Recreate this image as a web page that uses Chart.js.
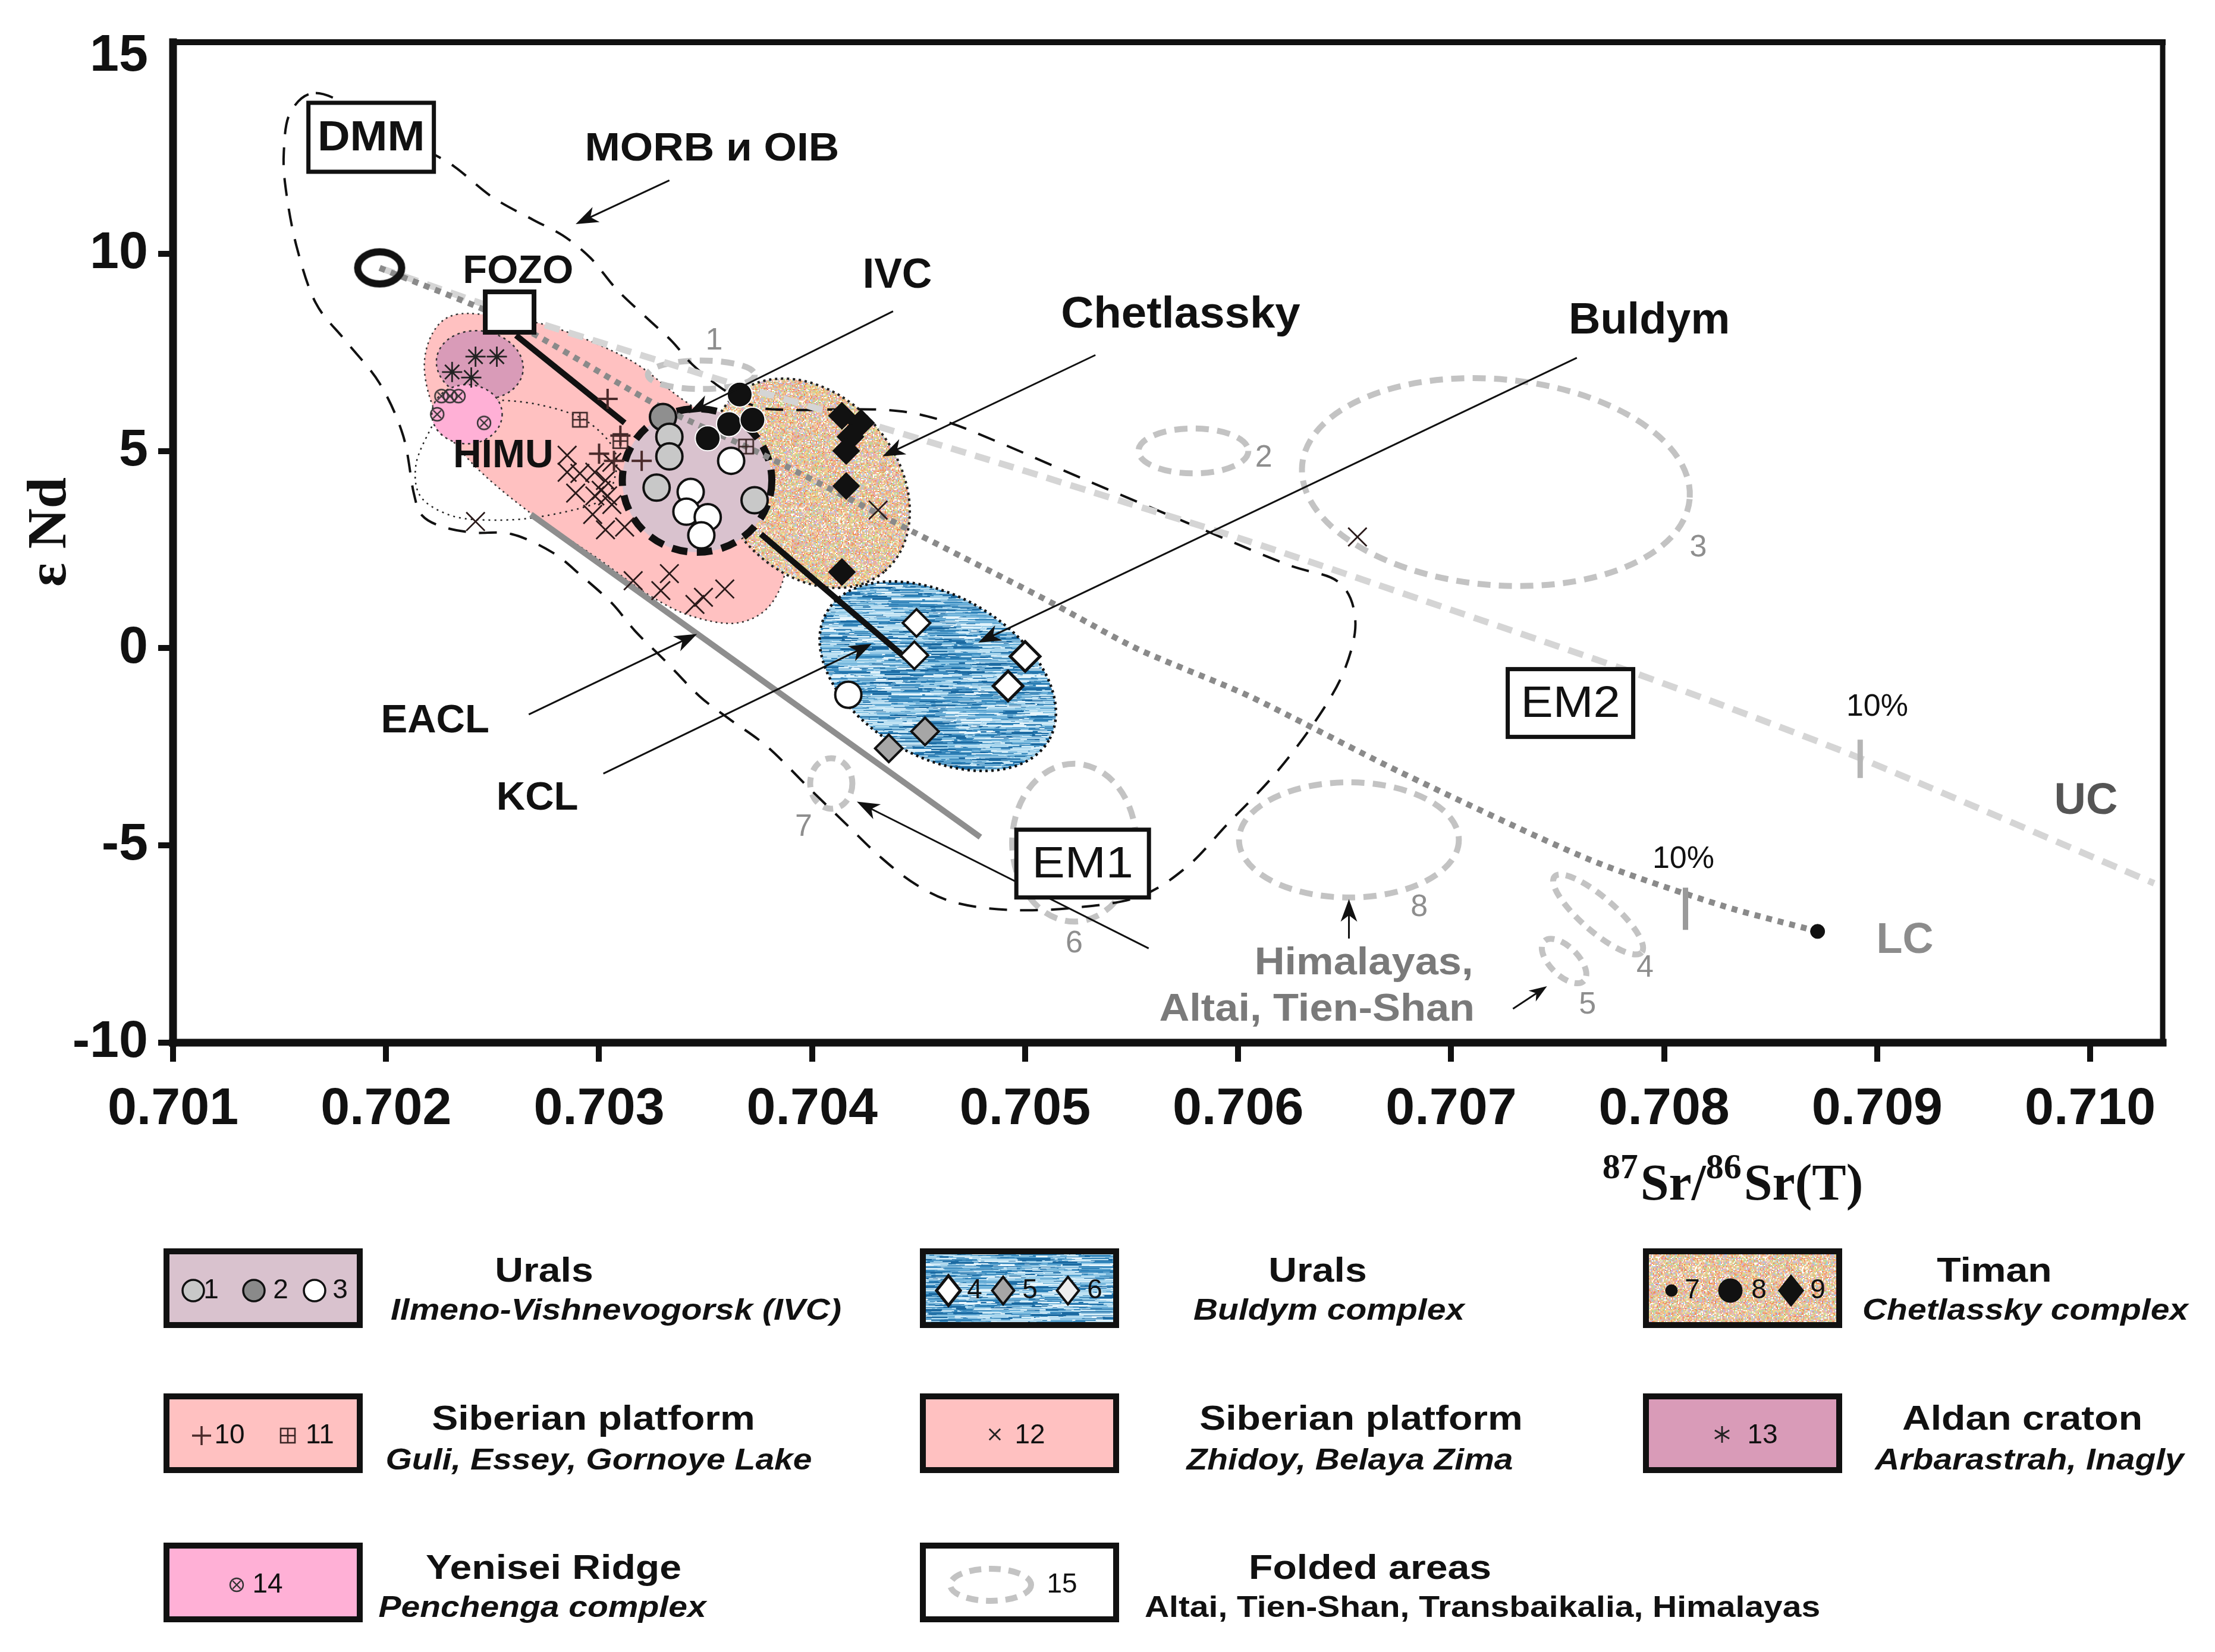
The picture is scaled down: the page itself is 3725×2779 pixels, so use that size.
<!DOCTYPE html>
<html lang="en">
<head>
<meta charset="utf-8">
<title>εNd vs 87Sr/86Sr(T)</title>
<script src="https://cdn.jsdelivr.net/npm/chart.js@4.4.1/dist/chart.umd.min.js"></script>
<style>
html,body{margin:0;padding:0;background:#ffffff;}
#wrap{position:relative;width:3725px;height:2779px;}
canvas{display:block;}
</style>
</head>
<body>
<div id="wrap"><canvas id="chart" width="3725" height="2779" style="width:3725px;height:2779px"></canvas></div>
<script>
// ======================= DATA =======================
const xTickLabels = ['0.701','0.702','0.703','0.704','0.705','0.706','0.707','0.708','0.709','0.710'];
const yTickLabels = ['-10','-5','0','5','10','15'];

// IVC (Urals, Ilmeno-Vishnevogorsk)
const ivc1 = [[0.70333,5.36],[0.70333,4.86],[0.70327,4.07],[0.70373,3.75]];
const ivc2 = [[0.70330,5.86]];
const ivc3 = [[0.70362,4.75],[0.70343,3.96],[0.70341,3.46],[0.70351,3.32],[0.70348,2.86],[0.70417,-1.18]];
// Timan, Chetlassky complex
const timan8 = [[0.70366,6.43],[0.70361,5.68],[0.70351,5.32],[0.70372,5.79]];
const timan9 = [[0.70414,5.89],[0.70423,5.71],[0.70418,5.36],[0.70416,5.00],[0.70416,4.11],[0.70414,1.93]];
// Urals, Buldym complex
const buldym4 = [[0.70500,-0.21],[0.70492,-0.96]];
const buldym5 = [[0.70453,-2.11],[0.70436,-2.54]];
const buldym6 = [[0.70449,0.64],[0.70448,-0.18]];
// Siberian platform: Guli, Essey, Gornoye Lake
const guli10 = [[0.70304,6.32],[0.70310,5.39],[0.70300,4.93],[0.70307,4.75],[0.70320,4.75]];
const guli11 = [[0.70291,5.79],[0.70310,5.25],[0.70369,5.11]];
// Siberian platform: Zhidoy, Belaya Zima
const zhidoy12 = [[0.70285,4.89],[0.70285,4.46],[0.70291,4.43],[0.70298,4.46],[0.70289,3.93],[0.70298,3.86],
  [0.70303,4.25],[0.70304,3.86],[0.70306,4.71],[0.70301,4.00],[0.70306,3.64],[0.70297,3.39],[0.70303,3.00],
  [0.70312,3.07],[0.70316,1.71],[0.70333,1.89],[0.70329,1.46],[0.70345,1.11],[0.70349,1.29],[0.70359,1.50],
  [0.70242,3.21],[0.70431,3.50],[0.70656,2.82]];
// Aldan craton
const aldan13 = [[0.70242,7.39],[0.70252,7.39],[0.70231,7.00],[0.70240,6.86]];
// Yenisei Ridge
const yenisei14 = [[0.70226,6.39],[0.70230,6.39],[0.70234,6.39],[0.70224,5.93],[0.70246,5.71]];

// reservoirs
const dmmRing = [[0.70197,9.64]];
const fozoPoint = [[0.70258,8.52]];
const lcPoint = [[0.70872,-7.18]];

// mixing / trend lines
const ucLine = [[0.70197,9.64],[0.70269,8.29],[0.70328,7.29],[0.70371,6.57],[0.70416,5.86],[0.70482,4.79],
  [0.70548,3.68],[0.70605,2.71],[0.70712,0.75],[0.70783,-0.57],[0.70830,-1.50],[0.70892,-2.79],[0.71030,-5.96]];
const lcLine = [[0.70197,9.64],[0.70258,8.29],[0.70329,6.11],[0.70376,4.93],[0.70447,2.96],[0.70509,1.25],
  [0.70552,0.00],[0.70605,-1.21],[0.70676,-3.14],[0.70765,-5.36],[0.70828,-6.54],[0.70872,-7.18]];
const ucTick = [[0.70892,-2.32],[0.70892,-3.29]];
const lcTick = [[0.70810,-6.07],[0.70810,-7.14]];
const trendBlack1 = [[0.70261,7.93],[0.70312,5.71]];
const trendBlack2 = [[0.70376,2.89],[0.70444,-0.25]];
const trendGray = [[0.70268,3.39],[0.70479,-4.79]];

// outlined / filled fields (data units)
const morbEnvelope = [[0.70167,14.07],[0.70189,13.57],[0.70217,12.68],[0.70232,12.21],[0.70250,11.43],[0.70269,10.86],
  [0.70283,10.46],[0.70296,9.89],[0.70308,9.11],[0.70322,8.39],[0.70334,7.79],[0.70344,7.18],[0.70358,6.57],
  [0.70373,6.14],[0.70389,6.04],[0.70434,6.04],[0.70460,5.79],[0.70488,5.21],[0.70529,4.25],[0.70576,3.18],
  [0.70622,2.14],[0.70647,1.68],[0.70655,0.71],[0.70650,-0.54],[0.70637,-1.79],[0.70617,-3.21],[0.70595,-4.46],
  [0.70576,-5.54],[0.70554,-6.29],[0.70525,-6.57],[0.70495,-6.64],[0.70468,-6.46],[0.70449,-6.00],[0.70432,-5.29],
  [0.70416,-4.46],[0.70399,-3.57],[0.70379,-2.50],[0.70361,-1.79],[0.70347,-1.21],[0.70331,-0.32],[0.70317,0.43],
  [0.70306,1.14],[0.70292,1.82],[0.70278,2.43],[0.70259,2.89],[0.70241,2.93],[0.70227,3.07],[0.70217,3.36],
  [0.70213,3.93],[0.70208,5.39],[0.70197,6.71],[0.70181,7.79],[0.70167,8.75],[0.70158,10.18],[0.70153,11.61],
  [0.70152,12.57],[0.70155,13.57]];
const zhidoyField = [[0.70233,8.46],[0.70255,8.39],[0.70280,8.11],[0.70314,7.32],[0.70337,6.39],[0.70363,5.36],
  [0.70381,4.11],[0.70388,2.32],[0.70381,1.14],[0.70365,0.64],[0.70343,0.82],[0.70323,1.36],[0.70300,2.25],
  [0.70266,3.50],[0.70240,4.71],[0.70224,5.89],[0.70218,7.07],[0.70222,8.00]];
const himuOutline = [[0.70249,6.29],[0.70271,6.18],[0.70293,5.79],[0.70307,5.04],[0.70307,4.25],[0.70300,3.71],
  [0.70271,3.32],[0.70246,3.25],[0.70229,3.39],[0.70216,3.86],[0.70214,4.64],[0.70220,5.46],[0.70226,5.93],[0.70237,6.18]];
// ellipses: [centre Sr, centre Nd, half-axis in Sr units, half-axis in Nd units, tilt in degrees]
const aldanField = [0.70244,7.18,0.000205,0.86,10];
const yeniseiField = [0.70238,5.93,0.000165,0.75,0];
const chetlasskyField = [0.70399,4.18,0.000542,2.21,50];
const ivcField = [0.70346,4.25,0.000351,1.82,0];
const buldymField = [0.70459,-0.71,0.000602,2.04,30];
const foldedAreas = [
  [0.70348,6.93,0.000251,0.36,0],
  [0.70579,5.00,0.000258,0.57,0],
  [0.70721,4.21,0.000913,2.61,5],
  [0.70769,-6.75,0.000271,0.43,41],
  [0.70753,-7.93,0.000132,0.36,45],
  [0.70523,-4.93,0.000291,2.00,0],
  [0.70409,-3.43,0.000099,0.64,0],
  [0.70652,-4.86,0.000516,1.46,0]];
const foldedLabels = [['1',0.70354,7.79],['2',0.70612,4.82],['3',0.70816,2.54],['4',0.70791,-8.11],
  ['5',0.70764,-9.04],['6',0.70523,-7.50],['7',0.70396,-4.54],['8',0.70685,-6.57]];

// annotations (text, Sr, Nd)
const plotLabels = [['MORB и OIB',0.70353,12.64],['FOZO',0.70262,9.54],['HIMU',0.70255,4.86],['IVC',0.70440,9.43],
  ['Chetlassky',0.70573,8.43],['Buldym',0.70793,8.29],['EACL',0.70223,-1.86],['KCL',0.70271,-3.82],
  ['Himalayas,',0.70659,-8.00],['Altai, Tien-Shan',0.70637,-9.18],['10%',0.70900,-1.50],['10%',0.70809,-5.36],
  ['UC',0.70998,-3.89],['LC',0.70913,-7.43]];
const boxLabels = [['DMM',0.70193,12.95],['EM1',0.70527,-5.46],['EM2',0.70756,-1.39]];
const leaderArrows = [[0.70333,11.86,0.70289,10.75],[0.70438,8.54,0.70342,5.96],[0.70533,7.43,0.70433,4.86],
  [0.70759,7.36,0.70478,0.14],[0.70267,-1.68,0.70346,0.36],[0.70302,-3.18,0.70428,0.11],
  [0.70558,-7.61,0.70421,-3.89],[0.70652,-7.36,0.70652,-6.36],[0.70729,-9.14,0.70745,-8.57]];

// legend texts
const legendTitles = ['Urals','Urals','Timan','Siberian platform','Siberian platform','Aldan craton','Yenisei Ridge','Folded areas'];
const legendSubtitles = ['Ilmeno-Vishnevogorsk (IVC)','Buldym complex','Chetlassky complex','Guli, Essey, Gornoye Lake',
  'Zhidoy, Belaya Zima','Arbarastrah, Inagly','Penchenga complex','Altai, Tien-Shan, Transbaikalia, Himalayas'];
const legendCodes = [['1','2','3'],['4','5','6'],['7','8','9'],['10','11'],['12'],['13'],['14'],['15']];

// ======================= STYLES / LAYOUT =======================
const SANS = '"Liberation Sans", Arial, Helvetica, sans-serif';
const SERIF = '"Liberation Serif", "Times New Roman", serif';
Chart.defaults.font.family = SANS;

const COL = {
  ink:'#111111', ivcFill:'#d9c2ce', zhidoyFill:'#ffc1c1', aldanFill:'#d99bb8', yeniseiFill:'#ffb0d6',
  folded:'#c3c3c3', uc:'#d5d5d5', lc:'#8a8a8a', grayTrend:'#8e8e8e', num:'#8e8e8e'
};
const labelStyle = {
  'MORB и OIB':{f:'bold 66px '+SANS,c:COL.ink,sx:1.08},
  'FOZO':{f:'bold 67px '+SANS,c:COL.ink,sx:1.0},
  'HIMU':{f:'bold 66px '+SANS,c:COL.ink,sx:1.0},
  'IVC':{f:'bold 70px '+SANS,c:COL.ink,sx:1.0},
  'Chetlassky':{f:'bold 74px '+SANS,c:COL.ink,sx:1.03},
  'Buldym':{f:'bold 74px '+SANS,c:COL.ink,sx:1.0},
  'EACL':{f:'bold 67px '+SANS,c:COL.ink,sx:1.0},
  'KCL':{f:'bold 67px '+SANS,c:COL.ink,sx:1.0},
  'Himalayas,':{f:'bold 64px '+SANS,c:'#7a7a7a',sx:1.1},
  'Altai, Tien-Shan':{f:'bold 64px '+SANS,c:'#7a7a7a',sx:1.1},
  '10%':{f:'52px '+SANS,c:COL.ink,sx:1.0},
  'UC':{f:'bold 74px '+SANS,c:'#555555',sx:1.0},
  'LC':{f:'bold 72px '+SANS,c:'#8c8c8c',sx:1.0}
};
const boxStyle = {
  'DMM':{f:'bold 70px '+SANS,w:211,h:116,sx:1.08},
  'EM1':{f:'74px '+SANS,w:223,h:114,sx:1.12},
  'EM2':{f:'74px '+SANS,w:211,h:114,sx:1.1}
};

// textures (deterministic generator, used only for fill textures)
function makeGen(seed){let s=seed>>>0;return function(){s=(Math.imul(s,1664525)+1013904223)>>>0;return s/4294967296;};}
function confettiCanvas(){
  const n=180,c=document.createElement('canvas');c.width=n;c.height=n;const g=c.getContext('2d');
  g.fillStyle='#e8cfa8';g.fillRect(0,0,n,n);
  const pal=['#f3a56e','#f6d884','#eaa3b0','#b5d69a','#a9c9ea','#f5ecd2','#e7bd8d','#ffffff','#d5b0d8','#ef8a5c','#c9d98f','#f1c3a0','#f2b48c','#e8d9a8'];
  const r=makeGen(12345);
  for(let y=0;y<n;y+=2)for(let x=0;x<n;x+=2){g.fillStyle=pal[Math.floor(r()*pal.length)];g.fillRect(x,y,2,2);}
  return c;
}
function streakCanvas(){
  const w=320,h=160,c=document.createElement('canvas');c.width=w;c.height=h;const g=c.getContext('2d');
  g.fillStyle='#5a9fcb';g.fillRect(0,0,w,h);
  const pal=['#1b69a0','#1f6ea6','#2f82b8','#8cc6e4','#bfe2f3','#e6f5fc','#6aafd8','#3a8cc0','#a9d6ee','#d2ecf8'];
  const r=makeGen(777);
  for(let i=0;i<1800;i++){
    const y=Math.floor(r()*h),x=r()*w,len=8+r()*60,t=1+Math.floor(r()*3);
    g.fillStyle=pal[Math.floor(r()*pal.length)];
    g.fillRect(x,y,len,t); if(x+len>w) g.fillRect(x-w,y,len,t);
  }
  return c;
}
const confettiTex = confettiCanvas();
const streakTex = streakCanvas();

// custom point symbols
function sqPlusSymbol(){const s=30,c=document.createElement('canvas');c.width=s;c.height=s;const g=c.getContext('2d');
  g.strokeStyle='#3b2626';g.lineWidth=2.6;g.strokeRect(3,3,s-6,s-6);g.beginPath();g.moveTo(s/2,3);g.lineTo(s/2,s-3);
  g.moveTo(3,s/2);g.lineTo(s-3,s/2);g.stroke();return c;}
function circXSymbol(){const s=30,c=document.createElement('canvas');c.width=s;c.height=s;const g=c.getContext('2d');
  g.strokeStyle='#333';g.lineWidth=2.4;g.beginPath();g.arc(15,15,11,0,Math.PI*2);g.stroke();
  g.beginPath();g.moveTo(8.5,8.5);g.lineTo(21.5,21.5);g.moveTo(21.5,8.5);g.lineTo(8.5,21.5);g.stroke();return c;}
function ringSymbol(){const c=document.createElement('canvas');c.width=92;c.height=70;const g=c.getContext('2d');
  g.strokeStyle='#111';g.lineWidth=12;g.beginPath();g.ellipse(46,35,37,27,0,0,Math.PI*2);g.stroke();return c;}
function fozoSymbol(){const c=document.createElement('canvas');c.width=92;c.height=78;const g=c.getContext('2d');
  g.fillStyle='#fff';g.fillRect(5,5,82,68);g.strokeStyle='#111';g.lineWidth=8;g.strokeRect(5,5,82,68);return c;}
const SYM = {sqPlus:sqPlusSymbol(), circX:circXSymbol(), ring:ringSymbol(), fozo:fozoSymbol()};

// ======================= helpers =======================
const xy = arr => arr.map(p => ({x:p[0], y:p[1]}));
function splinePath(ctx, pts){
  const n=pts.length; ctx.beginPath(); ctx.moveTo(pts[0][0],pts[0][1]);
  for(let i=0;i<n;i++){
    const p0=pts[(i-1+n)%n],p1=pts[i],p2=pts[(i+1)%n],p3=pts[(i+2)%n];
    ctx.bezierCurveTo(p1[0]+(p2[0]-p0[0])/6,p1[1]+(p2[1]-p0[1])/6,p2[0]-(p3[0]-p1[0])/6,p2[1]-(p3[1]-p1[1])/6,p2[0],p2[1]);
  }
  ctx.closePath();
}
function ellipsePath(ctx, xs, ys, e){
  const px=xs.getPixelForValue(e[0]), py=ys.getPixelForValue(e[1]);
  const rx=Math.abs(xs.getPixelForValue(e[0]+e[2])-px), ry=Math.abs(ys.getPixelForValue(e[1]+e[3])-py);
  ctx.beginPath(); ctx.ellipse(px,py,rx,ry,(e[4]||0)*Math.PI/180,0,Math.PI*2);
}
function drawText(ctx, s, x, y, font, color, sx, align, base){
  ctx.save(); ctx.font=font; ctx.fillStyle=color; ctx.textAlign=align||'center'; ctx.textBaseline=base||'middle';
  ctx.translate(x,y); ctx.scale(sx||1,1); ctx.fillText(s,0,0); ctx.restore();
}
function arrowTo(ctx,x1,y1,x2,y2,L,W){
  const a=Math.atan2(y2-y1,x2-x1),c=Math.cos(a),s=Math.sin(a);
  ctx.setLineDash([]); ctx.strokeStyle=COL.ink; ctx.fillStyle=COL.ink; ctx.lineWidth=3;
  ctx.beginPath(); ctx.moveTo(x1,y1); ctx.lineTo(x2-c*L*0.7,y2-s*L*0.7); ctx.stroke();
  ctx.beginPath(); ctx.moveTo(x2,y2); ctx.lineTo(x2-c*L+s*W,y2-s*L-c*W); ctx.lineTo(x2-c*L*0.72,y2-s*L*0.72);
  ctx.lineTo(x2-c*L-s*W,y2-s*L+c*W); ctx.closePath(); ctx.fill();
}

// ======================= plugins =======================
const fieldsPlugin = {
  id:'fields',
  beforeDatasetsDraw(chart){
    const ctx=chart.ctx, xs=chart.scales.x, ys=chart.scales.y, a=chart.chartArea;
    const P = arr => arr.map(p => [xs.getPixelForValue(p[0]), ys.getPixelForValue(p[1])]);
    ctx.save();
    ctx.beginPath(); ctx.rect(a.left,a.top,a.right-a.left,a.bottom-a.top); ctx.clip();
    ctx.lineCap='butt';
    splinePath(ctx,P(zhidoyField)); ctx.fillStyle=COL.zhidoyFill; ctx.fill();
    ctx.setLineDash([3,6]); ctx.lineWidth=2.5; ctx.strokeStyle='#333'; ctx.stroke();
    splinePath(ctx,P(himuOutline)); ctx.setLineDash([3,7]); ctx.lineWidth=2.5; ctx.strokeStyle='#222'; ctx.stroke();
    ellipsePath(ctx,xs,ys,aldanField); ctx.fillStyle=COL.aldanFill; ctx.fill();
    ctx.setLineDash([4,6]); ctx.lineWidth=2.5; ctx.strokeStyle='#333'; ctx.stroke();
    ellipsePath(ctx,xs,ys,yeniseiField); ctx.fillStyle=COL.yeniseiFill; ctx.fill(); ctx.stroke();
    ellipsePath(ctx,xs,ys,chetlasskyField); ctx.fillStyle=ctx.createPattern(confettiTex,'repeat'); ctx.fill();
    ctx.setLineDash([4,6]); ctx.lineWidth=4; ctx.strokeStyle='#222'; ctx.stroke();
    ellipsePath(ctx,xs,ys,ivcField); ctx.fillStyle=COL.ivcFill; ctx.fill();
    ctx.setLineDash([26,16]); ctx.lineWidth=12; ctx.strokeStyle='#111'; ctx.stroke();
    ellipsePath(ctx,xs,ys,buldymField); ctx.fillStyle=ctx.createPattern(streakTex,'repeat'); ctx.fill();
    ctx.setLineDash([4,6]); ctx.lineWidth=4.5; ctx.strokeStyle='#111'; ctx.stroke();
    foldedAreas.forEach((e,i)=>{
      ellipsePath(ctx,xs,ys,e); ctx.setLineDash(i===3||i===4||i===6?[17,12]:[22,14]);
      ctx.lineWidth=10; ctx.strokeStyle=COL.folded; ctx.stroke();
    });
    splinePath(ctx,P(morbEnvelope)); ctx.setLineDash([30,22]); ctx.lineWidth=4; ctx.strokeStyle='#111'; ctx.stroke();
    ctx.restore();
  }
};

const annotPlugin = {
  id:'annot',
  afterDatasetsDraw(chart){
    const ctx=chart.ctx, xs=chart.scales.x, ys=chart.scales.y, a=chart.chartArea;
    const X=v=>xs.getPixelForValue(v), Y=v=>ys.getPixelForValue(v);
    ctx.save();
    leaderArrows.forEach((r,i)=>{
      const small = i===8;
      arrowTo(ctx,X(r[0]),Y(r[1]),X(r[2]),Y(r[3]), small?30:38, small?11:14);
    });
    boxLabels.forEach(b=>{
      const st=boxStyle[b[0]], cx=X(b[1]), cy=Y(b[2]);
      ctx.setLineDash([]); ctx.fillStyle='#fff'; ctx.fillRect(cx-st.w/2,cy-st.h/2,st.w,st.h);
      ctx.lineWidth=7; ctx.strokeStyle='#111'; ctx.strokeRect(cx-st.w/2,cy-st.h/2,st.w,st.h);
      drawText(ctx,b[0],cx,cy+3,st.f,'#111',st.sx);
    });
    plotLabels.forEach(t=>{ const st=labelStyle[t[0]]; drawText(ctx,t[0],X(t[1]),Y(t[2]),st.f,st.c,st.sx); });
    foldedLabels.forEach(t=>drawText(ctx,t[0],X(t[1]),Y(t[2]),'52px '+SANS,COL.num,1));
    ctx.setLineDash([]); ctx.strokeStyle='#111'; ctx.lineCap='square';
    ctx.lineWidth=10; ctx.beginPath(); ctx.moveTo(a.left,a.top); ctx.lineTo(a.right,a.top); ctx.stroke();
    ctx.lineWidth=9; ctx.beginPath(); ctx.moveTo(a.right,a.top); ctx.lineTo(a.right,a.bottom); ctx.stroke();
    ctx.lineWidth=13; ctx.beginPath(); ctx.moveTo(a.left,a.top); ctx.lineTo(a.left,a.bottom); ctx.stroke();
    ctx.beginPath(); ctx.moveTo(a.left,a.bottom); ctx.lineTo(a.right,a.bottom); ctx.stroke();
    ctx.restore();
  }
};

function lgCircle(ctx,x,y,r,fill,lw){ctx.beginPath();ctx.arc(x,y,r,0,Math.PI*2);ctx.fillStyle=fill;ctx.fill();ctx.lineWidth=lw;ctx.strokeStyle='#111';ctx.stroke();}
function lgDiamond(ctx,x,y,r,fill,lw){ctx.beginPath();ctx.moveTo(x-r*0.8,y);ctx.lineTo(x,y-r);ctx.lineTo(x+r*0.8,y);ctx.lineTo(x,y+r);ctx.closePath();
  ctx.fillStyle=fill;ctx.fill();ctx.lineWidth=lw;ctx.strokeStyle='#111';ctx.stroke();}
function lgLines(ctx,x,y,r,angles,lw,color){ctx.strokeStyle=color;ctx.lineWidth=lw;ctx.beginPath();
  angles.forEach(a=>{const c=Math.cos(a*Math.PI/180)*r,s=Math.sin(a*Math.PI/180)*r;ctx.moveTo(x-c,y-s);ctx.lineTo(x+c,y+s);});ctx.stroke();}

const legendLayout = [
  {x:280,y:2105,tx:915,sx:1036,row:0},{x:1552,y:2105,tx:2216,sx:2235,row:0},{x:2768,y:2105,tx:3354,sx:3406,row:0},
  {x:280,y:2349,tx:998,sx:1007,row:1},{x:1552,y:2349,tx:2289,sx:2270,row:1},{x:2768,y:2349,tx:3401,sx:3413,row:1},
  {x:280,y:2600,tx:931,sx:912,row:2},{x:1552,y:2600,tx:2304,sx:2493,row:2}];
const titleRowY=[2140,2389,2640], subRowY=[2206,2458,2706];

const legendPlugin = {
  id:'legendAndTitles',
  afterDraw(chart){
    const ctx=chart.ctx;
    ctx.save();
    ctx.save(); ctx.translate(86,895); ctx.rotate(-Math.PI/2); ctx.font='bold 94px '+SERIF; ctx.fillStyle='#111';
    ctx.textAlign='center'; ctx.textBaseline='middle'; ctx.fillText('ε Nd',0,0); ctx.restore();
    const parts=[['87',true],['Sr/',false],['86',true],['Sr(T)',false]];
    const fBig='bold 86px '+SERIF, fSup='bold 60px '+SERIF;
    let total=0; parts.forEach(p=>{ctx.font=p[1]?fSup:fBig; total+=ctx.measureText(p[0]).width+(p[1]?4:0);});
    let x=2914-total/2; const base=2018;
    ctx.fillStyle='#111'; ctx.textAlign='left'; ctx.textBaseline='alphabetic';
    parts.forEach(p=>{ctx.font=p[1]?fSup:fBig; ctx.fillText(p[0],x,p[1]?base-36:base); x+=ctx.measureText(p[0]).width+(p[1]?4:0);});

    const W=325,H=124;
    const fills=[COL.ivcFill,ctx.createPattern(streakTex,'repeat'),ctx.createPattern(confettiTex,'repeat'),
      COL.zhidoyFill,COL.zhidoyFill,COL.aldanFill,COL.yeniseiFill,'#ffffff'];
    const digitFont='46px '+SANS;
    legendLayout.forEach((L,i)=>{
      ctx.setLineDash([]);
      ctx.fillStyle=fills[i]; ctx.fillRect(L.x,L.y,W,H);
      ctx.lineWidth=10; ctx.strokeStyle='#111'; ctx.strokeRect(L.x,L.y,W,H);
      const cy=L.y+H/2+4, codes=legendCodes[i];
      if(i===0){
        lgCircle(ctx,L.x+45,cy,18,'#c8c8c8',3.5); drawText(ctx,codes[0],L.x+75,cy,digitFont,'#111');
        lgCircle(ctx,L.x+147,cy,18,'#8a8a8a',3.5); drawText(ctx,codes[1],L.x+192,cy,digitFont,'#111');
        lgCircle(ctx,L.x+249,cy,18,'#ffffff',3.5); drawText(ctx,codes[2],L.x+292,cy,digitFont,'#111');
      } else if(i===1){
        lgDiamond(ctx,L.x+43,cy,25,'#ffffff',5); drawText(ctx,codes[0],L.x+87,cy,digitFont,'#111');
        lgDiamond(ctx,L.x+135,cy,23,'#a6a6a6',4); drawText(ctx,codes[1],L.x+180,cy,digitFont,'#111');
        lgDiamond(ctx,L.x+244,cy,23,'#eeeeee',4); drawText(ctx,codes[2],L.x+289,cy,digitFont,'#111');
      } else if(i===2){
        lgCircle(ctx,L.x+43,cy,10,'#111',1); drawText(ctx,codes[0],L.x+78,cy,digitFont,'#111');
        lgCircle(ctx,L.x+142,cy,20,'#111',1); drawText(ctx,codes[1],L.x+190,cy,digitFont,'#111');
        lgDiamond(ctx,L.x+244,cy,26,'#111',2); drawText(ctx,codes[2],L.x+289,cy,digitFont,'#111');
      } else if(i===3){
        lgLines(ctx,L.x+59,cy,16,[0,90],3.5,'#4a2a2a'); drawText(ctx,codes[0],L.x+106,cy,digitFont,'#111');
        ctx.drawImage(SYM.sqPlus,L.x+204-15,cy-15); drawText(ctx,codes[1],L.x+258,cy,digitFont,'#111');
      } else if(i===4){
        lgLines(ctx,L.x+121,cy-2,13,[45,135],2.8,'#222'); drawText(ctx,codes[0],L.x+180,cy,digitFont,'#111');
      } else if(i===5){
        lgLines(ctx,L.x+128,cy-2,14,[90,30,150],2.8,'#222'); drawText(ctx,codes[0],L.x+196,cy,digitFont,'#111');
      } else if(i===6){
        ctx.drawImage(SYM.circX,L.x+118-15,cy-15); drawText(ctx,codes[0],L.x+170,cy,digitFont,'#111');
      } else if(i===7){
        ctx.beginPath(); ctx.ellipse(L.x+114,cy,68,27,0,0,Math.PI*2); ctx.setLineDash([20,13]); ctx.lineWidth=10;
        ctx.strokeStyle=COL.folded; ctx.stroke(); ctx.setLineDash([]);
        drawText(ctx,codes[0],L.x+234,cy,digitFont,'#111');
      }
      drawText(ctx,legendTitles[i],L.tx,titleRowY[L.row],'bold 58px '+SANS,'#111',1.14);
      drawText(ctx,legendSubtitles[i],L.sx,subRowY[L.row],(i===7?'bold 50px ':'italic bold 50px ')+SANS,'#111',1.14);
    });
    ctx.restore();
  }
};

// ======================= datasets =======================
const marker = (label,data,style,r,fill,stroke,bw) => ({label,data:xy(data),pointStyle:style,pointRadius:r,pointHoverRadius:r,
  pointBackgroundColor:fill,pointBorderColor:stroke,pointBorderWidth:bw,showLine:false,order:1});
const line = (label,data,color,w,dash,tension) => ({label,data:xy(data),showLine:true,pointRadius:0,pointHoverRadius:0,
  borderColor:color,borderWidth:w,borderDash:dash||[],borderCapStyle:'butt',tension:tension||0,fill:false,order:5});

const datasets = [
  marker('DMM ring',dmmRing,SYM.ring,10,'#fff','#111',0),
  marker('FOZO',fozoPoint,SYM.fozo,10,'#fff','#111',0),
  marker('LC',lcPoint,'circle',12,'#111','#111',1),
  marker('1',ivc1,'circle',22,'#c8c8c8','#111',4),
  marker('2',ivc2,'circle',22,'#8f8f8f','#111',4),
  marker('3',ivc3,'circle',22,'#ffffff','#111',4),
  marker('8',timan8,'circle',21,'#111111','#ffffff',2),
  marker('9',timan9,'rectRot',22,'#111111','#111111',2),
  marker('4',buldym4,'rectRot',25,'#ffffff','#111',5),
  marker('5',buldym5,'rectRot',23,'#a6a6a6','#111',4),
  marker('6',buldym6,'rectRot',23,'#ffffff','#111',4),
  marker('10',guli10,'cross',17,'#4a2a2a','#4a2a2a',4),
  marker('11',guli11,SYM.sqPlus,10,'#fff','#3b2626',0),
  marker('12',zhidoy12,'crossRot',22,'#2a1a1a','#2a1a1a',2.8),
  marker('13',aldan13,'star',17,'#222','#222',2.8),
  marker('14',yenisei14,SYM.circX,10,'#fff','#333',0),
  line('trend 1',trendBlack1,'#111111',10),
  line('trend 2',trendBlack2,'#111111',10),
  line('KCL/EACL',trendGray,COL.grayTrend,10),
  line('UC 10%',ucTick,'#b5b5b5',9),
  line('LC 10%',lcTick,'#9a9a9a',9),
  line('LC mixing',lcLine,COL.lc,10,[10,10],0.25),
  line('UC mixing',ucLine,COL.uc,11,[26,16],0.25)
];

// ======================= chart =======================
new Chart(document.getElementById('chart'), {
  type:'scatter',
  data:{datasets},
  options:{
    responsive:false, animation:false, devicePixelRatio:1, events:[],
    layout:{padding:{left:0,right:88,top:71,bottom:875}},
    scales:{
      x:{type:'linear',min:0.701,max:0.71034,
        afterFit(s){s.height=150;},
        border:{display:false},
        grid:{drawOnChartArea:false,drawTicks:true,tickLength:32,tickWidth:10,tickColor:'#111',color:'#111',lineWidth:10},
        ticks:{stepSize:0.001,includeBounds:false,autoSkip:false,maxRotation:0,minRotation:0,padding:28,color:'#111',
          font:{family:SANS,weight:'bold',size:88},
          callback:v=>{const i=Math.round((v-0.701)*1000);return xTickLabels[i]!==undefined?xTickLabels[i]:'';}}},
      y:{type:'linear',min:-10,max:15.36,
        afterFit(s){s.width=291;},
        border:{display:false},
        grid:{drawOnChartArea:false,drawTicks:true,tickLength:25,tickWidth:10,color:'#111',lineWidth:10,
          tickColor:c=>(c.tick&&c.tick.value===15)?'rgba(0,0,0,0)':'#111'},
        ticks:{stepSize:5,includeBounds:false,padding:17,color:'#111',font:{family:SANS,weight:'bold',size:88},
          callback:v=>{const i=Math.round((v+10)/5);return yTickLabels[i]!==undefined?yTickLabels[i]:'';}}}
    },
    plugins:{legend:{display:false},tooltip:{enabled:false},title:{display:false}}
  },
  plugins:[fieldsPlugin,annotPlugin,legendPlugin]
});
</script>
</body>
</html>
